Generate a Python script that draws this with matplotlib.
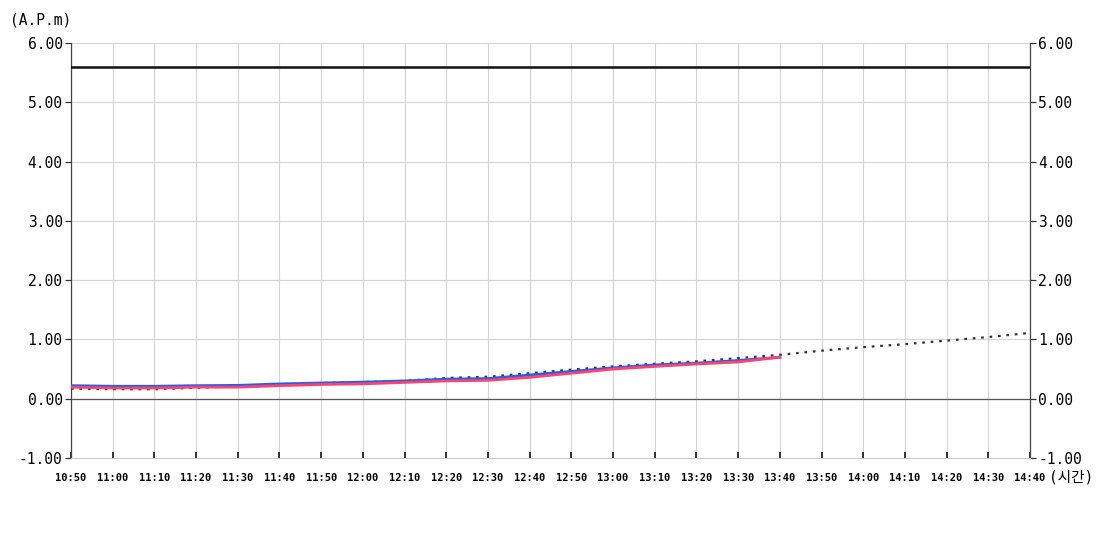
import numpy as np
import matplotlib
matplotlib.use('Agg')
import matplotlib.pyplot as plt

plt.rcParams['font.family'] = ['DejaVu Sans Mono', 'Noto Sans CJK KR']

# time labels every 10 minutes
time_labels = ['10:50', '11:00', '11:10', '11:20', '11:30', '11:40', '11:50', '12:00',
               '12:10', '12:20', '12:30', '12:40', '12:50', '13:00', '13:10', '13:20',
               '13:30', '13:40', '13:50', '14:00', '14:10', '14:20', '14:30', '14:40']

# measured series (10:50 - 13:40)
blue_vals = [0.22, 0.21, 0.21, 0.22, 0.225, 0.25, 0.265, 0.28, 0.30, 0.33,
             0.34, 0.40, 0.46, 0.52, 0.57, 0.60, 0.645, 0.70]
red_vals = [0.195, 0.18, 0.18, 0.195, 0.195, 0.22, 0.24, 0.25, 0.275, 0.30,
            0.31, 0.36, 0.43, 0.50, 0.545, 0.585, 0.62, 0.70]
# predicted / trend series (10:50 - 14:40)
trend_vals = [0.17, 0.16, 0.16, 0.185, 0.21, 0.24, 0.265, 0.28, 0.30, 0.35,
              0.37, 0.43, 0.49, 0.545, 0.59, 0.63, 0.685, 0.74, 0.81, 0.87,
              0.92, 0.98, 1.04, 1.11]
limit_value = 5.60

y_ticks = [-1, 0, 1, 2, 3, 4, 5, 6]


def main():
    fig = plt.figure(figsize=(11, 5.5), dpi=100)
    ax = fig.add_axes([71 / 1100, 1 - 458 / 550, 959 / 1100, 415 / 550])

    x_all = np.arange(len(time_labels))
    x_meas = np.arange(len(blue_vals))

    ax.set_xlim(0, len(time_labels) - 1)
    ax.set_ylim(-1, 6)

    ax.grid(True, color='#d4d4d4', linewidth=0.8)
    ax.set_axisbelow(True)

    ax.axhline(0, color='#555555', linewidth=0.9, zorder=2)
    ax.axhline(limit_value, color='#111111', linewidth=1.8, zorder=3)

    ax.plot(x_all, trend_vals, color='#333333', linewidth=1.6,
            linestyle=(0, (1.2, 2.6)), zorder=4)
    ax.plot(x_meas, blue_vals, color='#1f5ff0', linewidth=2.0, zorder=5)
    ax.plot(x_meas, red_vals, color='#ff4470', linewidth=2.0, zorder=6)

    # axes styling
    for side in ['left', 'right']:
        ax.spines[side].set_color('#444444')
        ax.spines[side].set_linewidth(0.9)
    ax.spines['top'].set_visible(False)
    ax.spines['bottom'].set_color('#cccccc')

    ax.set_yticks(y_ticks)
    ax.set_yticklabels([f"{v:.2f}" for v in y_ticks])
    ax.tick_params(axis='y', which='both', left=True, right=True,
                   labelleft=True, labelright=True, length=4, width=0.9,
                   color='#333333', labelsize=10.5, pad=2)

    ax.set_xticks(x_all)
    ax.set_xticklabels(time_labels)
    ax.tick_params(axis='x', direction='in', length=4, width=1.2,
                   color='#111111', labelsize=7.5, pad=11)
    plt.setp(ax.get_xticklabels(), fontweight='bold')

    fig.text(10 / 1100, 1 - 20 / 550, '(A.P.m)', fontsize=10.5,
             ha='left', va='center')
    fig.text(1049 / 1100, 1 - 477 / 550, '(시간)', fontsize=10.5,
             ha='left', va='center')

    fig.savefig('out.png', dpi=100)


if __name__ == '__main__':
    main()
